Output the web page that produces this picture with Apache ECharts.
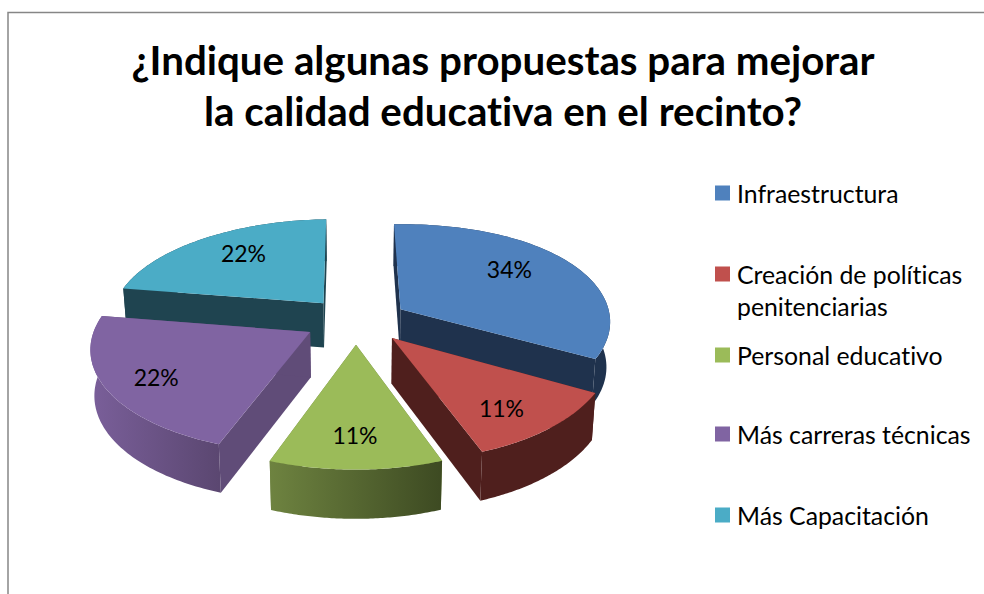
<!DOCTYPE html>
<html><head><meta charset="utf-8">
<style>html,body{margin:0;padding:0;background:#fff}#c{width:984px;height:594px}svg text{font-variant-ligatures:none}</style>
<script src="https://cdn.jsdelivr.net/npm/echarts@6/dist/echarts.min.js"></script>
</head><body><div id="c"></div>
<script>
const titleLines = ['¿Indique algunas propuestas para mejorar', 'la calidad educativa en el recinto?'];
const categories = ['Infraestructura', 'Creación de políticas penitenciarias', 'Personal educativo', 'Más carreras técnicas', 'Más Capacitación'];
const values = [34, 11, 11, 22, 22];
const legendLabels = ['Infraestructura', ' \nCreación de políticas\npenitenciarias', 'Personal educativo', 'Más carreras técnicas', 'Más Capacitación'];

const topColors = ['#4F81BD', '#C0504D', '#9BBB59', '#8064A2', '#4BACC6'];
const wallColors = ['#1F324D', '#4F1F1D', '#6B7F3C', '#604C78', '#1F4450'];
const rimStops = [['#1F324D', '#1F324D'], ['#4F1F1D', '#4F1F1D'], ['#6E8340', '#3D4A22'], ['#7A5F9A', '#5B4771'], ['#1F4450', '#1F4450']];
const legendTops = [177, 226, 339, 418, 499];
const sliceNudge = [[3, 0], [4, -1], [0, 0], [-3, -1], [-1, -1]];
const labelNudge = [[-9, -6], [15, 17], [-1, -6], [7, 0], [-3, -8]];
const labelRadius = [0.7, 0.62, 0.8, 0.8, 0.62];

const FONT = 'Lato, Carlito, Calibri, sans-serif';
const cx = 356, cy = 321, rx = 213, ry = 100, k = 0.14, explode = 0.23, D = 45, k2 = 0.07, vx = 360, rot = -1.8, skew = 3.5;
const total = values.reduce((a, b) => a + b, 0);
const rad = d => d * Math.PI / 180;
const starts = values.map((_, i) => rot + values.slice(0, i).reduce((a, b) => a + b, 0) / total * 360);

function projTop(X, Y) {
  const w = 1 + k * Y;
  const xr = Math.max(X, 0) * Math.max(X, 0);
  return [cx + rx * X / w + skew * Math.max(Y, 0) * Math.max(Y, 0) - 2 * xr, cy - ry * Y / w - 3 * xr];
}
function projBottom(X, Y) {
  const p = projTop(X, Y);
  return [vx + (p[0] - vx) * 0.985, p[1] + D / (1 + k2 * Y)];
}
function renderSlice(i) {
  return function (params, api) {
    const sweep = api.value(0) / total * 360;
    const a0 = starts[i], m = rad(a0 + sweep / 2);
    const ox = explode * Math.sin(m), oy = explode * Math.cos(m);
    const nd = sliceNudge[i];
    const shift = p => [p[0] + nd[0], p[1] + nd[1]];
    const arcT = [], arcB = [];
    for (let s = 0; s <= 72; s++) {
      const a = rad(a0 + sweep * s / 72), X = ox + Math.sin(a), Y = oy + Math.cos(a);
      arcT.push(shift(projTop(X, Y))); arcB.push(shift(projBottom(X, Y)));
    }
    const aT = shift(projTop(ox, oy)), aB = shift(projBottom(ox, oy));
    const n = arcT.length - 1;
    const xs = arcT.map(p => p[0]);
    const grad = new echarts.graphic.LinearGradient(Math.min(...xs), 0, Math.max(...xs), 0,
      [{ offset: 0, color: rimStops[i][0] }, { offset: 1, color: rimStops[i][1] }], true);
    const poly = (pts, fill, z2) => ({ type: 'polygon', z2, shape: { points: pts }, style: { fill, stroke: null } });
    const lr = labelRadius[i];
    const lp = shift(projTop(ox + lr * Math.sin(m), oy + lr * Math.cos(m)));
    return {
      type: 'group',
      children: [
        poly([aT, arcT[0], arcB[0], aB], wallColors[i], 1),
        poly([aT, arcT[n], arcB[n], aB], wallColors[i], 1),
        poly(arcT.concat(arcB.slice().reverse()), grad, 2),
        poly([aT].concat(arcT), topColors[i], 3),
        {
          type: 'text', z2: 4,
          style: {
            text: Math.round(api.value(0) / total * 100) + '%',
            x: lp[0] + labelNudge[i][0], y: lp[1] + labelNudge[i][1],
            align: 'center', verticalAlign: 'middle',
            font: '23px ' + FONT, fill: '#000'
          }
        }
      ]
    };
  };
}
const ranks = values.map((_, i) => Math.cos(rad(starts[i] + values[i] / total * 180)));
const series = categories.map((name, i) => ({
  type: 'custom', name, coordinateSystem: 'none', silent: true,
  z: 10 + ranks.filter(r => r > ranks[i]).length,
  itemStyle: { color: topColors[i] },
  data: [[values[i]]],
  renderItem: renderSlice(i)
}));
const legend = categories.map((name, i) => ({
  data: [name], orient: 'vertical', left: 713, top: legendTops[i], padding: 0,
  icon: 'path://M0 7.5h.01v.01h-.01Z M2 0H17V15H2Z M18.99 7.5h.01v.01h-.01Z', itemWidth: 19, itemHeight: 15, selectedMode: false,
  formatter: () => legendLabels[i],
  textStyle: { fontFamily: FONT, fontSize: 24.8, color: '#000', lineHeight: 32 }
}));
const chart = echarts.init(document.getElementById('c'), null, { renderer: 'svg' });
chart.setOption({
  animation: false,
  backgroundColor: '#fff',
  title: {
    text: titleLines.join('\n'), left: 503, top: 34, textAlign: 'center', padding: 0,
    textStyle: { fontFamily: FONT, fontWeight: 'bold', fontSize: 40.3, lineHeight: 51, color: '#000' }
  },
  legend, series,
  graphic: [{
    type: 'polyline', silent: true,
    shape: { points: [[8, 594], [8, 12.5], [984, 12.5]] },
    style: { stroke: '#868686', lineWidth: 1.5, fill: null }
  }]
});
</script></body></html>
